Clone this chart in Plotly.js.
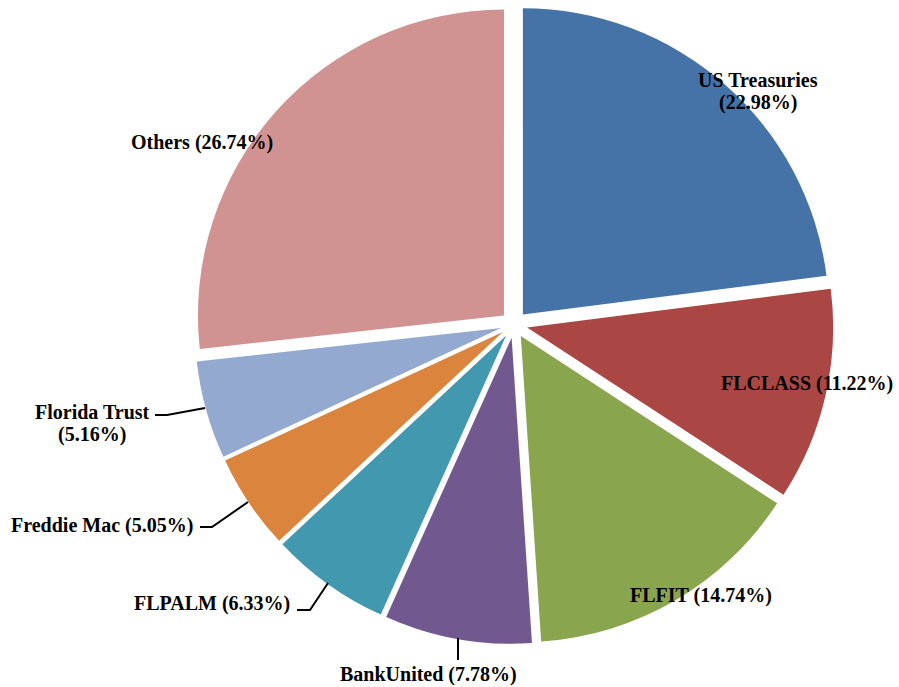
<!DOCTYPE html>
<html><head><meta charset="utf-8">
<script src="https://cdn.plot.ly/plotly-3.0.1.min.js"></script>
<style>html,body{margin:0;padding:0;background:#fff}#chart{width:899px;height:687px}</style>
</head><body><div id="chart"></div>
<script>
const categories = ["US Treasuries","FLCLASS","FLFIT","BankUnited","FLPALM","Freddie Mac","Florida Trust","Others"];
const shares = [22.98,11.22,14.74,7.78,6.33,5.05,5.16,26.74];
const sliceColors = ["#4572A7","#AA4643","#89A54E","#71588F","#4198AF","#DB843D","#93A9CF","#D19392"];

const W = 899, H = 687;
const px = x => x / W, py = y => 1 - y / H;

// label placement (pixels): centre x, first-line y, two-line flag
const labelPos = [
  {x: 758, y: 80, two: true},
  {x: 807, y: 383},
  {x: 701, y: 595},
  {x: 428, y: 674.5},
  {x: 212, y: 603.5},
  {x: 102, y: 525},
  {x: 92, y: 411.5, two: true},
  {x: 202, y: 142.5}
];
const leaders = [null, null, null,
  [[458, 638], [458, 660]],
  [[297, 610], [310, 610], [328, 583]],
  [[200, 527], [212, 527], [248, 502]],
  [[155, 415], [167, 415], [205, 408]],
  null];

const labelFont = {family: "'Liberation Serif', 'Times New Roman', serif", size: 20, color: '#000', weight: 'bold'};
const annotations = [];
categories.forEach((name, i) => {
  const pct = '(' + shares[i].toFixed(2) + '%)';
  const p = labelPos[i];
  const lines = p.two ? [name, pct] : [name + ' ' + pct];
  lines.forEach((t, k) => {
    annotations.push({
      text: t, xref: 'paper', yref: 'paper',
      x: px(p.x), y: py(p.y + k * 22.5),
      xanchor: 'center', yanchor: 'middle', showarrow: false, font: labelFont
    });
  });
});
const shapes = leaders.filter(l => l).map(l => ({
  type: 'path', xref: 'paper', yref: 'paper',
  path: l.map((pt, k) => (k ? 'L' : 'M') + px(pt[0]) + ',' + py(pt[1])).join(' '),
  line: {color: '#000', width: 2}
}));

const cx = 514, cy = 324.5, half = 319.5;
const trace = {
  type: 'pie', labels: categories, values: shares,
  marker: {colors: sliceColors, line: {width: 0}},
  sort: false, direction: 'clockwise', rotation: 0,
  pull: shares.map(() => 0.044),
  textinfo: 'none', hoverinfo: 'none', showlegend: false,
  domain: {x: [(cx - half) / W, (cx + half) / W], y: [1 - (cy + half) / H, 1 - (cy - half) / H]}
};
Plotly.newPlot('chart', [trace], {
  width: W, height: H, margin: {l: 0, r: 0, t: 0, b: 0},
  paper_bgcolor: '#fff', plot_bgcolor: '#fff', showlegend: false,
  annotations: annotations, shapes: shapes
}, {displayModeBar: false, staticPlot: true});
</script></body></html>
